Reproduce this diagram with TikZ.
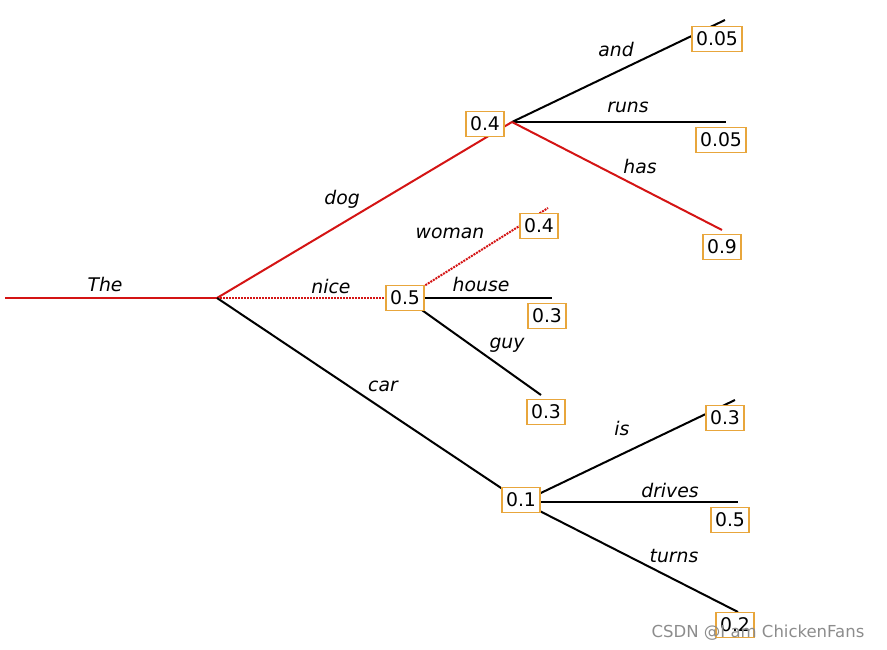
\documentclass[tikz,border=0pt]{standalone}
\usepackage{fontspec}
\setmainfont{DejaVu Sans}
\definecolor{tred}{RGB}{212,20,20}
\definecolor{tbox}{RGB}{232,166,60}
\begin{document}
\begin{tikzpicture}[x=1pt,y=-1pt,
  edge/.style={line width=2pt,black},
  redge/.style={line width=2pt,tred},
  dedge/.style={line width=2pt,tred,densely dotted},
  prob/.style={draw=tbox,line width=1.3pt,fill=white,inner xsep=4pt,inner ysep=0pt,minimum height=25.5pt,text height=13.7pt,text depth=0pt,font=\fontsize{18.8}{22}\selectfont},
  word/.style={font=\fontsize{18.8}{22}\selectfont\itshape,inner sep=0pt}]
\useasboundingbox (0,0) rectangle (887,650);
% branch points
\coordinate (s) at (5,298);
\coordinate (p0) at (217,298);
\coordinate (p1) at (512,122);
\coordinate (p2) at (405,298);
\coordinate (p3) at (522,502);
\coordinate (eand) at (725,20);
\coordinate (eruns) at (726,122);
\coordinate (ehas) at (722,230);
\coordinate (ewoman) at (548,208);
\coordinate (ehouse) at (552,298);
\coordinate (eguy) at (541,395);
\coordinate (eis) at (735,400);
\coordinate (edrives) at (738,502);
\coordinate (eturns) at (738,612);
% connectors
\draw[redge] (s) -- (p0);
\draw[redge] (p0) -- (p1);
\draw[dedge] (p0) -- (p2);
\draw[edge] (p0) -- (p3);
\draw[edge] (p1) -- (eand);
\draw[edge] (p1) -- (eruns);
\draw[redge] (p1) -- (ehas);
\draw[dedge] (p2) -- (ewoman);
\draw[edge] (p2) -- (ehouse);
\draw[edge] (p2) -- (eguy);
\draw[edge] (p3) -- (eis);
\draw[edge] (p3) -- (edrives);
\draw[edge] (p3) -- (eturns);
% word labels
\node[word] (lthe) at (105,284) {The};
\node[word] (ldog) at (342,199) {dog};
\node[word] (lnice) at (331,286) {nice};
\node[word] (lcar) at (383,386) {car};
\node[word] (land) at (616,49) {and};
\node[word] (lruns) at (628,107) {runs};
\node[word] (lhas) at (640,166) {has};
\node[word] (lwoman) at (450,233) {woman};
\node[word] (lhouse) at (481,284) {house};
\node[word] (lguy) at (507,345) {guy};
\node[word] (lis) at (622,428) {is};
\node[word] (ldrives) at (670,490) {drives};
\node[word] (lturns) at (674,556) {turns};
% probability boxes
\node[prob] (b1) at (485,124) {0.4};
\node[prob] (b2) at (405,298) {0.5};
\node[prob] (b3) at (521,500) {0.1};
\node[prob] (band) at (717,39) {0.05};
\node[prob] (bruns) at (721,140) {0.05};
\node[prob] (bhas) at (722,247) {0.9};
\node[prob] (bwoman) at (539,226) {0.4};
\node[prob] (bhouse) at (547,316) {0.3};
\node[prob] (bguy) at (546,412) {0.3};
\node[prob] (bis) at (725,418) {0.3};
\node[prob] (bdrives) at (730,520) {0.5};
\node[prob] (bturns) at (735,625) {0.2};
% watermark
\node[text=black!45,font=\fontsize{16.5}{18}\selectfont,inner sep=0pt] (wm) at (758,633) {CSDN @I am ChickenFans};
\end{tikzpicture}
\end{document}
